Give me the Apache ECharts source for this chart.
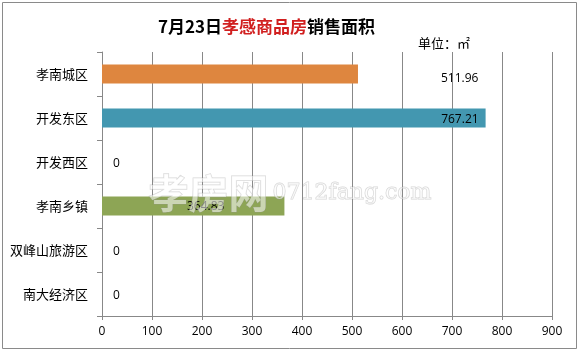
<!DOCTYPE html>
<html>
<head>
<meta charset="utf-8">
<script src="https://cdn.jsdelivr.net/npm/echarts@6/dist/echarts.min.js"></script>
<style>
  html, body { margin: 0; padding: 0; background: #fff; }
  #chart_container { width: 579px; height: 351px; }
</style>
</head>
<body>
<div id="chart_container"></div>
<script>
"use strict";

// data
const categories = ['孝南城区', '开发东区', '开发西区', '孝南乡镇', '双峰山旅游区', '南大经济区'];
const areaValues = [511.96, 767.21, 0, 364.83, 0, 0];
const barColors = ['#DE863F', '#4397B0', '#8DA555', '#8DA555', '#8DA555', '#8DA555'];
const xTicks = [0, 900, 100];  // min, max, interval

const fontCN = '"Noto Sans CJK SC", "Noto Sans", sans-serif';
const fontNum = '"Open Sans", "Noto Sans", sans-serif';

// label positions differ per bar in the original
let labelFor = (v, i) => {
    if (v === 0) {
        return { position: 'right', offset: [6, 2] };
    }
    if (i === 0) {
        return { position: 'right', offset: [78, 5] };
    }
    if (i === 1) {
        return { position: 'insideRight', distance: 7, offset: [0, 2] };
    }
    return { position: 'insideRight', distance: 60, offset: [0, 1] };
};

let seriesData = areaValues.map((v, i) => ({
    value: v,
    itemStyle: { color: barColors[i] },
    label: labelFor(v, i)
}));

let optEchart = {
    animation: false,
    backgroundColor: '#fff',
    title: {
        text: '{b|7月23日}{r|孝感商品房}{b|销售面积}',
        left: 153,
        top: 13,
        textStyle: {
            rich: {
                b: { fontFamily: fontCN, fontSize: 17, fontWeight: 'bold', color: '#000' },
                r: { fontFamily: fontCN, fontSize: 17, fontWeight: 'bold', color: '#D11F1F' }
            }
        }
    },
    grid: {
        left: 102,
        right: 27,
        top: 52,
        bottom: 35,
        containLabel: false
    },
    xAxis: {
        type: 'value',
        min: xTicks[0],
        max: xTicks[1],
        interval: xTicks[2],
        axisLine: { show: true, lineStyle: { color: '#888', width: 1 } },
        axisTick: { show: true, length: 4, lineStyle: { color: '#888' } },
        axisLabel: { color: '#000', fontFamily: fontNum, fontSize: 12, margin: 10 },
        splitLine: { show: true, lineStyle: { color: '#888', width: 1 } }
    },
    yAxis: {
        type: 'category',
        inverse: true,
        data: categories,
        axisLine: { show: true, lineStyle: { color: '#888', width: 1 } },
        axisTick: { show: true, length: 5, lineStyle: { color: '#888' } },
        axisLabel: { color: '#000', fontFamily: fontCN, fontSize: 13, margin: 14 }
    },
    series: [
        {
            type: 'bar',
            data: seriesData,
            barWidth: 19,
            label: {
                show: true,
                color: '#000',
                fontFamily: fontNum,
                fontSize: 12
            }
        }
    ],
    graphic: [
        {
            type: 'rect',
            shape: { x: 2.5, y: 2.5, width: 574, height: 346 },
            style: { fill: null, stroke: '#8a8a8a', lineWidth: 1 },
            silent: true
        },
        {
            type: 'text',
            left: 418,
            top: 37,
            style: { text: '单位：㎡', font: '13px "Noto Sans CJK SC"', fill: '#000' }
        },
        {
            type: 'text',
            left: 148,
            top: 172,
            z: 100,
            style: {
                text: '孝房网',
                font: 'bold 40px "Noto Sans CJK SC"',
                fill: 'rgba(255,255,255,0.55)',
                stroke: 'rgba(150,150,150,0.4)',
                lineWidth: 1
            }
        },
        {
            type: 'text',
            left: 272,
            top: 182,
            z: 100,
            style: {
                text: '0712fang.com',
                font: '22px "DejaVu Serif"',
                fill: 'rgba(255,255,255,0.55)',
                stroke: 'rgba(150,150,150,0.4)',
                lineWidth: 1
            }
        }
    ]
};

let pageLoaded = () => {
    let chartDom = document.getElementById('chart_container');
    let myChart = echarts.init(chartDom);
    optEchart && myChart.setOption(optEchart);
};

window.addEventListener('load', pageLoaded, false);
</script>
</body>
</html>
